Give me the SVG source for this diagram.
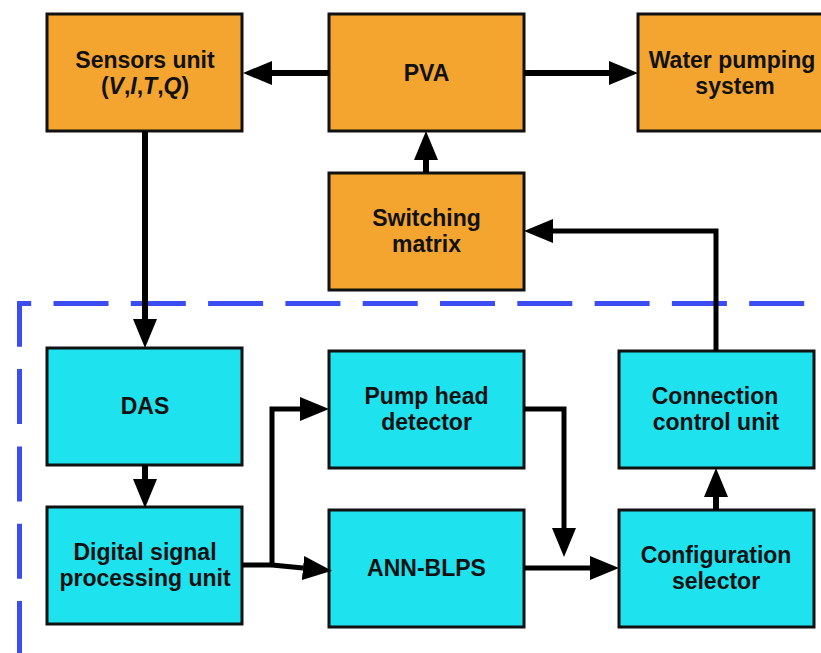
<svg xmlns="http://www.w3.org/2000/svg" width="821" height="653" viewBox="0 0 821 653">
<style>
.o{fill:#f3a52f;stroke:#111;stroke-width:3}
.c{fill:#1fe2ef;stroke:#111;stroke-width:3}
.t{font-family:"Liberation Sans",Arial,sans-serif;font-weight:bold;font-size:23px;fill:#111;text-anchor:middle}
.w{fill:none;stroke:#000;stroke-width:6;marker-end:url(#ah)}
.n{fill:none;stroke:#000;stroke-width:5;marker-end:url(#ah)}
.p{fill:none;stroke:#000;stroke-width:5}
</style>
<defs>
<marker id="ah" markerUnits="userSpaceOnUse" markerWidth="29" markerHeight="24" refX="0" refY="12" orient="auto">
<path d="M0,0 L29,12 L0,24 z" fill="#000"/>
</marker>
</defs>
<rect width="821" height="653" fill="#fff"/>
<path d="M19.5 656 L19.5 303.5 L821 303.5" fill="none" stroke="#3b4cf0" stroke-width="5" stroke-dasharray="55 22.3"/>
<g id="sensors"><rect class="o" x="47" y="14" width="195" height="117"/><text class="t" x="145" y="68">Sensors unit</text><text class="t" x="145" y="94">(<tspan font-style="italic">V</tspan>,<tspan font-style="italic">I</tspan>,<tspan font-style="italic">T</tspan>,<tspan font-style="italic">Q</tspan>)</text></g>
<g id="pva"><rect class="o" x="329" y="14" width="195" height="117"/><text class="t" x="426.5" y="81">PVA</text></g>
<g id="water"><rect class="o" x="638" y="14" width="195" height="117"/><text class="t" x="732" y="68">Water pumping</text><text class="t" x="735" y="94">system</text></g>
<g id="switching"><rect class="o" x="329" y="173" width="195" height="117"/><text class="t" x="426.5" y="226">Switching</text><text class="t" x="426.5" y="252">matrix</text></g>
<g id="das"><rect class="c" x="47" y="348" width="195" height="117"/><text class="t" x="145" y="414">DAS</text></g>
<g id="dsp"><rect class="c" x="47" y="507" width="195" height="117"/><text class="t" x="145" y="560">Digital signal</text><text class="t" x="145" y="586">processing unit</text></g>
<g id="pumphead"><rect class="c" x="329" y="351" width="195" height="117"/><text class="t" x="426.5" y="404">Pump head</text><text class="t" x="426.5" y="430">detector</text></g>
<g id="ann"><rect class="c" x="329" y="510" width="195" height="117"/><text class="t" x="426.5" y="576">ANN-BLPS</text></g>
<g id="ccu"><rect class="c" x="619" y="351" width="195" height="117"/><text class="t" x="715" y="404">Connection</text><text class="t" x="716" y="430">control unit</text></g>
<g id="config"><rect class="c" x="619" y="510" width="195" height="117"/><text class="t" x="716" y="563">Configuration</text><text class="t" x="716" y="589">selector</text></g>
<g id="connectors">
<path class="w" d="M329 73 L272 73"/>
<path class="w" d="M524 73 L609 73"/>
<path class="w" d="M426 173 L426 160"/>
<path class="n" d="M716 351 L716 231 L553 231"/>
<path class="w" d="M145 131 L145 319"/>
<path class="w" d="M145 465 L145 479"/>
<path class="p" d="M242 565 L272 565"/>
<path class="n" d="M272 565 L303 568"/>
<path class="n" d="M272 567 L272 409 L300 409"/>
<path class="n" d="M524 409 L564 409 L564 528"/>
<path class="n" d="M524 568 L590 568"/>
<path class="w" d="M716 510 L716 497"/>
</g>
</svg>
